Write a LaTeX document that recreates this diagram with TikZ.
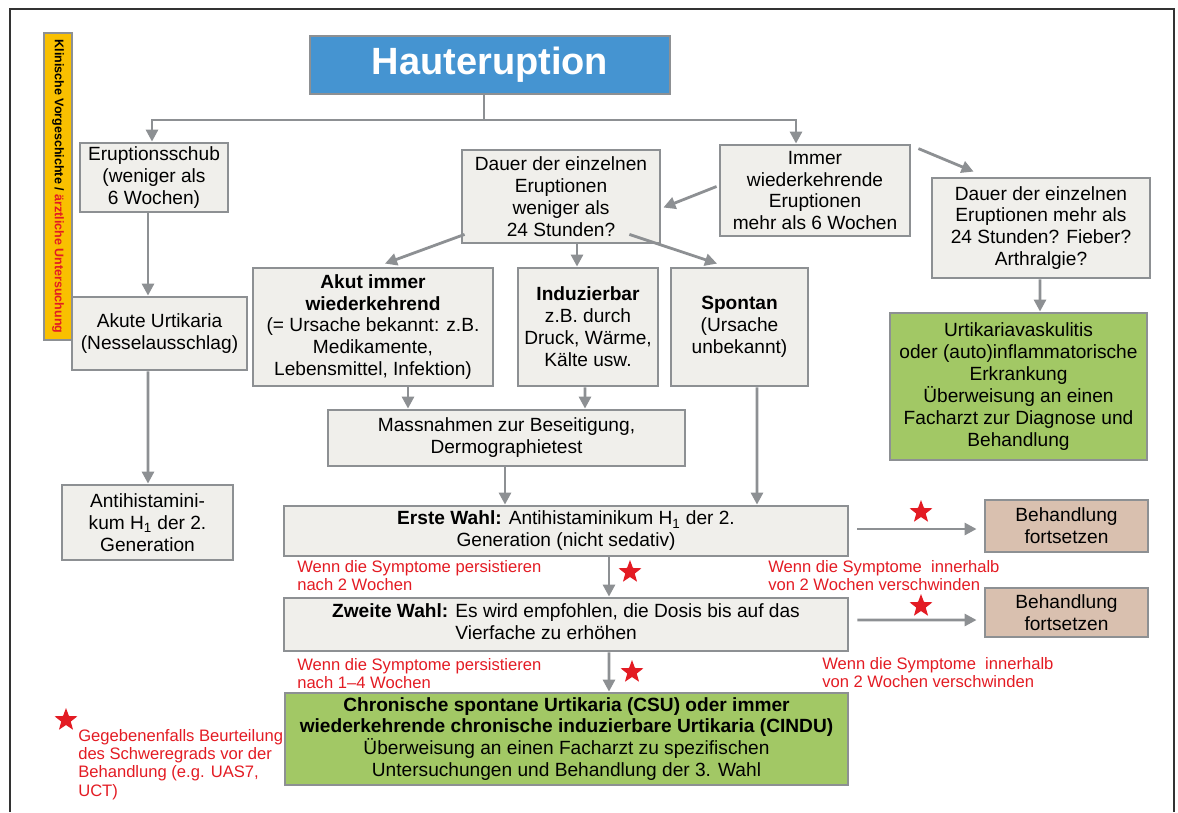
\documentclass[tikz,border=0pt]{standalone}
\usepackage{fontspec}
\setmainfont{Liberation Sans}
\usetikzlibrary{shapes.geometric, arrows.meta, positioning, calc}
\definecolor{boxgray}{HTML}{F0EFEB}
\definecolor{linegray}{HTML}{8D9093}
\definecolor{headblue}{HTML}{4594D1}
\definecolor{baryellow}{HTML}{F9C000}
\definecolor{okgreen}{HTML}{A2C865}
\definecolor{tan}{HTML}{D9C0AF}
\definecolor{starred}{HTML}{E31B23}
\definecolor{framegray}{HTML}{333333}
\tikzstyle{box} = [rectangle, draw=linegray, line width=2pt, fill=boxgray, align=center, inner sep=2pt, text=black, font=\fontsize{13.6}{15.6}\selectfont]
\tikzstyle{head} = [box, fill=headblue, text=white, font=\fontsize{27}{32}\selectfont\bfseries]
\tikzstyle{sidebar} = [rectangle, draw=linegray, line width=1.5pt, fill=baryellow, rotate=-90, inner sep=1pt, font=\fontsize{8.9}{10}\selectfont\bfseries]
\tikzstyle{greenbox} = [box, fill=okgreen]
\tikzstyle{tanbox} = [box, fill=tan]
\tikzstyle{arrow} = [draw=linegray, line width=2pt, -{Triangle[length=0.3cm, width=0.3cm]}]
\tikzstyle{line} = [draw=linegray, line width=2pt]
\tikzstyle{note} = [text=starred, align=left, anchor=north west, inner sep=0pt, font=\fontsize{11.8}{13}\selectfont]
\tikzstyle{stern} = [star, star points=5, star point ratio=2.4, fill=starred, minimum size=0.6cm, inner sep=0pt]

\begin{document}
\begin{tikzpicture}[x=0.025cm, y=-0.025cm]
        \useasboundingbox (0,0) rectangle (1178,812);

        % Rahmen
        \draw[draw=framegray, line width=0.8pt] (10,812) -- (10,9) -- (1174,9) -- (1174,812);

        % Kopf und Seitenleiste
        \node (haut) [head, minimum width=9cm, minimum height=1.45cm] at (490,65) {Hauteruption};
        \node (klin) [sidebar, minimum width=7.675cm, minimum height=0.7cm] at (58,186.5) {Klinische Vorgeschichte / \textcolor{starred}{ärztliche Untersuchung}};

        % Linke Spalte
        \node (erupt) [box, minimum width=3.7cm, minimum height=1.725cm] at (154,177.5) {Eruptionsschub\\(weniger als\\6 Wochen)};
        \node (akute) [box, minimum width=4.375cm, minimum height=1.825cm] at (159.5,333.5) {Akute Urtikaria\\(Nesselausschlag)};
        \node (antih) [box, minimum width=4.275cm, minimum height=1.875cm] at (147.5,522.5) {Antihistamini-\\kum H\textsubscript{1} der 2.\\Generation};

        % Mitte
        \node (dauer) [box, minimum width=4.95cm, minimum height=2.325cm] at (561,196.5) {Dauer der einzelnen\\Eruptionen\\weniger als\\24 Stunden?};
        \node (immer) [box, minimum width=4.75cm, minimum height=2.275cm] at (815,190.5) {Immer\\wiederkehrende\\Eruptionen\\mehr als 6 Wochen};
        \node (akut) [box, minimum width=6cm, minimum height=2.95cm] at (373,327) {\textbf{Akut immer}\\\textbf{wiederkehrend}\\(= Ursache bekannt: z.B.\\Medikamente,\\Lebensmittel, Infektion)};
        \node (induz) [box, minimum width=3.5cm, minimum height=2.95cm] at (588,327) {\textbf{Induzierbar}\\z.B. durch\\Druck, Wärme,\\Kälte usw.};
        \node (spontan) [box, minimum width=3.425cm, minimum height=2.95cm] at (739.5,327) {\textbf{Spontan}\\(Ursache\\unbekannt)};
        \node (massn) [box, minimum width=8.925cm, minimum height=1.4cm] at (506.5,438) {Massnahmen zur Beseitigung,\\Dermographietest};

        % Rechte Spalte
        \node (dauerr) [box, minimum width=5.45cm, minimum height=2.5cm] at (1041,228) {Dauer der einzelnen\\Eruptionen mehr als\\24 Stunden? Fieber?\\Arthralgie?};
        \node (vask) [greenbox, minimum width=6.425cm, minimum height=3.675cm] at (1018.5,386.5) {Urtikariavaskulitis\\oder (auto)inflammatorische\\Erkrankung\\Überweisung an einen\\Facharzt zur Diagnose und\\Behandlung};

        % Behandlung
        \node (erste) [box, minimum width=14.1cm, minimum height=1.25cm] at (566,531) {\textbf{Erste Wahl:} Antihistaminikum H\textsubscript{1} der 2.\\Generation (nicht sedativ)};
        \node (zweite) [box, minimum width=14.1cm, minimum height=1.325cm] at (566,624.5) {\begin{tabular}{@{}l@{}}\textbf{Zweite Wahl:} Es wird empfohlen, die Dosis bis auf das\\\hphantom{\textbf{Zweite Wahl:} }Vierfache zu erhöhen\end{tabular}};
        \node (csu) [greenbox, minimum width=14.075cm, minimum height=2.3cm] at (566.5,739) {\textbf{Chronische spontane Urtikaria (CSU) oder immer}\\\textbf{wiederkehrende chronische induzierbare Urtikaria (CINDU)}\\Überweisung an einen Facharzt zu spezifischen\\Untersuchungen und Behandlung der 3. Wahl};
        \node (beh1) [tanbox, minimum width=4.075cm, minimum height=1.3cm] at (1066.5,526) {Behandlung\\fortsetzen};
        \node (beh2) [tanbox, minimum width=4.075cm, minimum height=1.225cm] at (1066.5,612.5) {Behandlung\\fortsetzen};

        % Hinweise
        \node (pers1) [note] at (297,560) {Wenn die Symptome persistieren\\nach 2 Wochen};
        \node (weg1) [note] at (768,560) {Wenn die Symptome\ \ innerhalb\\von 2 Wochen verschwinden};
        \node (pers2) [note] at (297,658) {Wenn die Symptome persistieren\\nach 1--4 Wochen};
        \node (weg2) [note] at (822,657) {Wenn die Symptome\ \ innerhalb\\von 2 Wochen verschwinden};
        \node (fuss) [note] at (78,729) {Gegebenenfalls Beurteilung\\des Schweregrads vor der\\Behandlung (e.g. UAS7,\\UCT)};

        % Sterne
        \node (star1) [stern] at (921,512) {};
        \node (star2) [stern] at (630,572) {};
        \node (star3) [stern] at (921,606) {};
        \node (star4) [stern] at (632,672) {};
        \node (star5) [stern] at (66,720) {};

        % Verzweigung unter Hauteruption
        \coordinate (split) at (484,120);
        \draw [line] ($(haut.south)+(-6,0)$) -- (split);
        \draw [arrow] (split) -| ($(erupt.north)+(-2,0)$);
        \draw [arrow] (split) -| ($(immer.north)+(-19,0)$);

        % Linke Spalte
        \draw [arrow] ($(erupt.south)+(-6,0)$) -- ($(akute.north)+(-11.5,0)$);
        \draw [arrow] ($(akute.south)+(-11.5,0)$) -- ($(antih.north)+(0.5,0)$);

        % Schräge Pfeile
        \draw [arrow] ($(immer.west)+(-2,-4)$) -- ($(dauer.east)+(2,11)$);
        \draw [arrow] ($(immer.north east)+(7,5)$) -- ($(dauerr.north west)+(43,-5)$);
        \draw [arrow] ($(dauer.south west)+(4,-10)$) -- ($(akut.north)+(12,-3)$);
        \draw [arrow] ($(dauer.south)+(16,0)$) -- ($(induz.north)+(-11,0)$);
        \draw [arrow] ($(dauer.south east)+(-32,-10)$) -- ($(spontan.north)+(-22.5,-3)$);
        \draw [arrow] ($(dauerr.south)+(-1,0)$) -- ($(vask.north)+(21.5,0)$);

        % Zur Behandlung
        \draw [arrow] ($(akut.south)+(35,0)$) -- ($(massn.north)+(-98.5,0)$);
        \draw [arrow] ($(induz.south)+(-3,0)$) -- ($(massn.north)+(78.5,0)$);
        \draw [arrow] ($(massn.south)+(-1.5,0)$) -- ($(erste.north)+(-61,0)$);
        \draw [arrow] ($(spontan.south)+(17.5,0)$) -- ($(erste.north)+(191,0)$);
        \draw [arrow] ($(erste.south)+(43,0)$) -- ($(zweite.north)+(43,0)$);
        \draw [arrow] ($(zweite.south)+(43,0)$) -- ($(csu.north)+(42.5,0)$);
        \draw [arrow] ($(erste.east)+(8,-2)$) -- ($(beh1.west)+(-7,3)$);
        \draw [arrow] ($(zweite.east)+(8,-4.5)$) -- ($(beh2.west)+(-7,7.5)$);

    \end{tikzpicture}
\end{document}
